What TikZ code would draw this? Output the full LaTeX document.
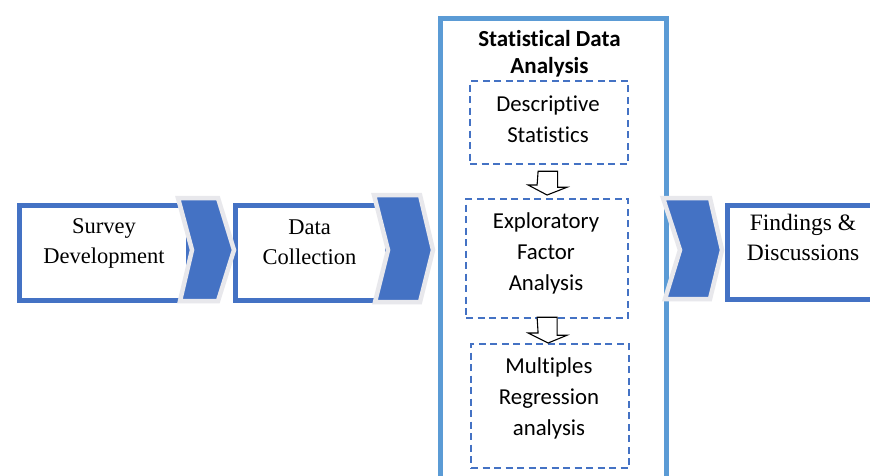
\documentclass[tikz,border=0pt]{standalone}
\usepackage{fontspec}
\setmainfont{Liberation Serif}
\newfontfamily\calibri[Ligatures=NoCommon]{Carlito}
\usetikzlibrary{calc}
\definecolor{dblue}{HTML}{4472C4}
\definecolor{lblue}{HTML}{5B9BD5}
\definecolor{chevedge}{HTML}{E8E8EC}
\begin{document}
\begin{tikzpicture}[x=1pt,y=-1pt,
  stagebox/.style={draw=dblue, line width=5pt, fill=white, inner sep=0pt, anchor=north west},
  stagetext/.style={font=\fontsize{22.5}{30}\selectfont, align=center, text=black, inner sep=0pt},
  bigbox/.style={draw=lblue, line width=5pt, fill=white, inner sep=0pt, anchor=north west},
  dashbox/.style={draw=dblue, line width=2.2pt, dash pattern=on 7pt off 4.5pt, inner sep=0pt, anchor=north west},
  subtext/.style={font=\calibri\fontsize{22.8}{31}\selectfont, align=center, inner sep=0pt},
  titletext/.style={font=\calibri\bfseries\fontsize{23}{27}\selectfont, align=center, inner sep=0pt},
  chev/.style={fill=dblue, draw=chevedge, line width=4.5pt, line join=miter},
  hollow/.style={draw=black, line width=1.1pt, fill=white, line join=miter}
]
\useasboundingbox (0,0) rectangle (870,475);
\fill[white] (0,0) rectangle (870,475);

% stage boxes
\node[stagebox, minimum width=169pt, minimum height=95pt] (survey) at (16.5,202.5) {};
\node[stagetext] (surveyT) at (104,243) {Survey\\Development};

\node[stagebox, minimum width=152pt, minimum height=95pt] (collect) at (232.5,202.5) {};
\node[stagetext] (collectT) at (309.5,242) {Data\\Collection};

\node[stagebox, minimum width=200pt, minimum height=94pt] (find) at (724.5,202.5) {};
\node[stagetext, font=\fontsize{23.5}{30}\selectfont] (findT) at (803,237) {Findings \&\\Discussions};

% big analysis box
\node[bigbox, minimum width=226pt, minimum height=470pt] (analysis) at (437.5,15.5) {};
\node[titletext] (title) at (549.5,54) {Statistical Data\\Analysis};

% dashed sub boxes
\node[dashbox, minimum width=158pt, minimum height=83pt] (desc) at (469,80) {};
\node[subtext] (descT) at (548,119) {Descriptive\\Statistics};
\node[dashbox, minimum width=162pt, minimum height=119pt] (expl) at (465,198) {};
\node[subtext] (explT) at (546,253) {Exploratory\\Factor\\Analysis};
\node[dashbox, minimum width=158pt, minimum height=124pt] (mult) at (470,343) {};
\node[subtext] (multT) at (549,398) {Multiples\\Regression\\analysis};

% hollow arrows between sub boxes
\draw[hollow] ($(desc.south)+(-11,6)$) -- ++(19.5,0) -- ++(0,16) -- ++(9.5,0)
  -- ($(expl.north)+(0,-3)$) -- ++(-19,-10) -- ++(9,0) -- cycle;
\draw[hollow] ($(expl.south)+(-10,-2)$) -- ++(20,0) -- ++(0,18) -- ++(10,0)
  -- ($(mult.north)+(-2,0)$) -- ++(-20,-10) -- ++(10,0) -- cycle;

% chevrons
\coordinate (c1) at (178,198);
\draw[chev] (c1) -- ++(40,0) -- ++(16,52) -- ++(-16,51) -- ++(-38,0) -- ++(12,-51) -- cycle;
\coordinate (c2) at (374,195);
\draw[chev] (c2) -- ++(46,0) -- ++(13,55) -- ++(-13,52) -- ++(-45,0) -- ++(13,-52) -- cycle;
\coordinate (c3) at (663,198);
\draw[chev] (c3) -- ++(47,0) -- ++(12,52) -- ++(-12,49) -- ++(-45,0) -- ++(15,-49) -- cycle;
\end{tikzpicture}
\end{document}
